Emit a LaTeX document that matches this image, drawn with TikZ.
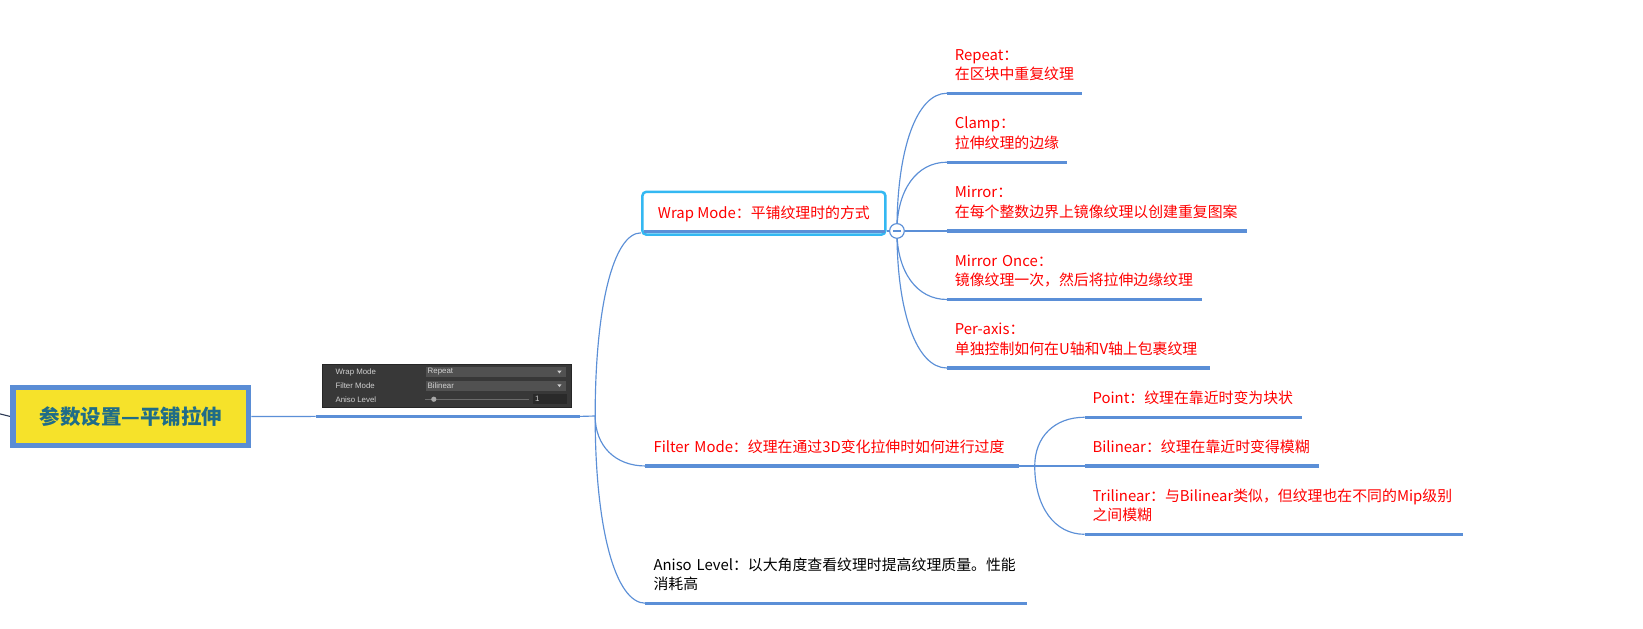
\documentclass[tikz,border=0pt]{standalone}
\usepackage{fontspec}
\newfontfamily\cjk{Noto Sans CJK SC}
\newfontfamily\uifont{Liberation Sans}
\usepackage{xcolor}
\usepackage{tikz}
\usetikzlibrary{calc, backgrounds, positioning}
\definecolor{lineblue}{HTML}{5B8FD7}
\definecolor{rootblue}{HTML}{5A8DD5}
\definecolor{rootfill}{HTML}{F6E22A}
\definecolor{roottext}{HTML}{1F6C88}
\definecolor{wrapcyan}{HTML}{33B8F2}
\definecolor{topicred}{HTML}{FF0000}
\definecolor{stubnavy}{HTML}{2B3A55}
\definecolor{uibg}{HTML}{383838}
\definecolor{uiedge}{HTML}{262626}
\definecolor{uidropgrey}{HTML}{515151}
\definecolor{uifieldgrey}{HTML}{2A2A2A}
\definecolor{uitext}{HTML}{D0D0D0}
\definecolor{uislider}{HTML}{6B6B6B}
\definecolor{uiknob}{HTML}{A8A8A8}
\tikzset{
    rootnode/.style = {draw=rootblue, fill=rootfill, line width=5pt, minimum width=225pt,
      minimum height=56pt, inner sep=0pt, text=roottext,
      font=\cjk\bfseries\fontsize{19.5}{24}\selectfont, text height=17.2pt, text depth=2.3pt},
    wrapnode/.style = {draw=wrapcyan, rounded corners=4pt, line width=2.4pt, minimum width=232pt,
      minimum height=41pt, inner sep=0pt, text=topicred,
      font=\cjk\fontsize{14.2}{18.5}\selectfont, text height=12.5pt, text depth=1.7pt},
    topicnode/.style = {anchor=south west, align=left, text width=#1, inner xsep=7.5pt,
      inner ysep=7.45pt, text=topicred, font=\cjk\fontsize{14.2}{18.5}\selectfont,
      execute at end node=\strut},
    foldnode/.style = {circle, draw=lineblue, fill=white, line width=1.1pt, minimum size=14pt, inner sep=0pt},
    shotnode/.style = {draw=uiedge, fill=uibg, line width=0.8pt, minimum width=237pt,
      minimum height=41pt, inner sep=0pt},
    uilabel/.style = {anchor=west, inner sep=0pt, text=uitext, font=\uifont\fontsize{7.5}{8}\selectfont},
    uidrop/.style = {anchor=west, fill=uidropgrey, text=uitext, text width=130pt, align=left,
      inner xsep=2pt, inner ysep=0pt, minimum height=9.5pt, font=\uifont\fontsize{7.5}{8}\selectfont},
    uifield/.style = {anchor=west, fill=uifieldgrey, text=uitext, text width=28pt, align=left,
      inner xsep=2pt, inner ysep=0pt, minimum height=10pt, font=\uifont\fontsize{7.5}{8}\selectfont},
    uiknob/.style = {circle, fill=uiknob, minimum size=5pt, inner sep=0pt},
    uislide/.style = {draw=uislider, line width=1pt},
    bar/.style = {draw=lineblue, line width=3.2pt},
    twig/.style = {draw=lineblue, line width=1.1pt},
    stub/.style = {draw=stubnavy, line width=1pt},
    branch/.style = {to path={.. controls ($(\tikztostart)!0.6!(\tikztostart|-\tikztotarget)$)
      and ($(\tikztotarget)!0.6!(\tikztostart|-\tikztotarget)$) .. (\tikztotarget)}}
}
\begin{document}
\begin{tikzpicture}[x=1pt, y=-1pt]
    \useasboundingbox (0,0) rectangle (1568,600);
    % root and the inspector picture
    \coordinate (off) at (0,395);
    \node[rootnode] (root) at (125,397.5) {参数设置—平铺拉伸};
    \node[shotnode] (shot) at (426.5,368.5) {};
    \coordinate (shotL) at ([shift={(-6.5pt,-8pt)}]shot.south west);
    \coordinate (shotR) at ([shift={(8pt,-8pt)}]shot.south east);
    \coordinate (j1) at (568,397);
    \node[uilabel] (lwrap) at (320,355) {Wrap Mode};
    \node[uidrop] (dwrap) at (406,355) {Repeat};
    \node[uilabel] (lfilter) at (320,368) {Filter Mode};
    \node[uidrop] (dfilter) at (406,368) {Bilinear};
    \node[uilabel] (laniso) at (320,381) {Aniso Level};
    \node[uifield] (faniso) at (508.5,381) {1};
    \draw[uislide] (406,381) -- ([xshift=-3.5pt]faniso.west);
    \node[uiknob] (knob) at (414,381) {};
    \foreach \d in {dwrap, dfilter}
        \fill[uitext] ([xshift=-8.5pt,yshift=1.2pt]\d.east) -- ++(4pt,0) -- ++(-2pt,-2.6pt) -- cycle;
    \draw[bar] (shotL) -- (shotR);
    % wrap mode
    \node[wrapnode] (wm) at (729,203.5) {Wrap~Mode：平铺纹理时的方式};
    \draw[bar] ([xshift=3pt,yshift=4pt]wm.south west) -- ([xshift=-2pt,yshift=4pt]wm.south east);
    \coordinate (wmIn) at ([yshift=3pt]wm.south west);
    \node[foldnode] (ct) at (856,220.4) {};
    \draw[twig] ([xshift=-4pt]ct.center) -- ([xshift=4pt]ct.center);
    \draw[twig] (wm.east |- ct) -- (ct.west);
    \node[topicnode=113.4pt] (rp) at (903.6,89) {Repeat：\\在区块中重复纹理};
    \node[topicnode=99.4pt] (cl) at (903.6,154.8) {Clamp：\\拉伸纹理的边缘};
    \node[topicnode=271.4pt] (mr) at (903.6,220.4) {Mirror：\\在每个整数边界上镜像纹理以创建重复图案};
    \node[topicnode=228.4pt] (mo) at (903.6,285.8) {Mirror~Once：\\镜像纹理一次，然后将拉伸边缘纹理};
    \node[topicnode=235.4pt] (pa) at (903.6,351.2) {Per-axis：\\单独控制如何在U轴和V轴上包裹纹理};
    % filter mode
    \node[topicnode=341pt] (fm) at (616,444.7) {Filter~Mode：纹理在通过3D变化拉伸时如何进行过度};
    \coordinate (j2) at (987.5,444.7);
    \node[topicnode=192pt] (pt) at (1035,398.2) {Point：纹理在靠近时变为块状};
    \node[topicnode=208pt] (bl) at (1035,444.7) {Bilinear：纹理在靠近时变得模糊};
    \node[topicnode=346pt] (tl) at (1035,509.9) {Trilinear：与Bilinear类似，但纹理也在不同的Mip级别\\之间模糊};
    % aniso level
    \node[topicnode=349pt, text=black] (al) at (616,575.7) {Aniso~Level：以大角度查看纹理时提高纹理质量。性能\\消耗高};
    \foreach \n in {rp, cl, mr, mo, pa, fm, pt, bl, tl, al}
        \draw[bar] (\n.south west) -- (\n.south east);
    \draw[twig] (fm.south east) -- (j2);
    \begin{scope}[on background layer]
        \fill[white] (0,0) rectangle (1568,600);
        \draw[stub] (off) -- (root.west);
        \draw[twig] (root.east) -- (shotL);
        \draw[twig] (shotR) -- (j1);
        \draw[twig] (j1) edge[branch] (wmIn) edge[branch] (fm.south west) edge[branch] (al.south west);
        \draw[twig] (ct.center) edge[branch] (rp.south west) edge[branch] (cl.south west)
            edge[branch] (mo.south west) edge[branch] (pa.south west);
        \draw[twig] (ct.east) -- (mr.south west);
        \draw[twig] (j2) edge[branch] (pt.south west) edge[branch] (tl.south west);
        \draw[twig] (j2) -- (bl.south west);
    \end{scope}
\end{tikzpicture}
\end{document}
